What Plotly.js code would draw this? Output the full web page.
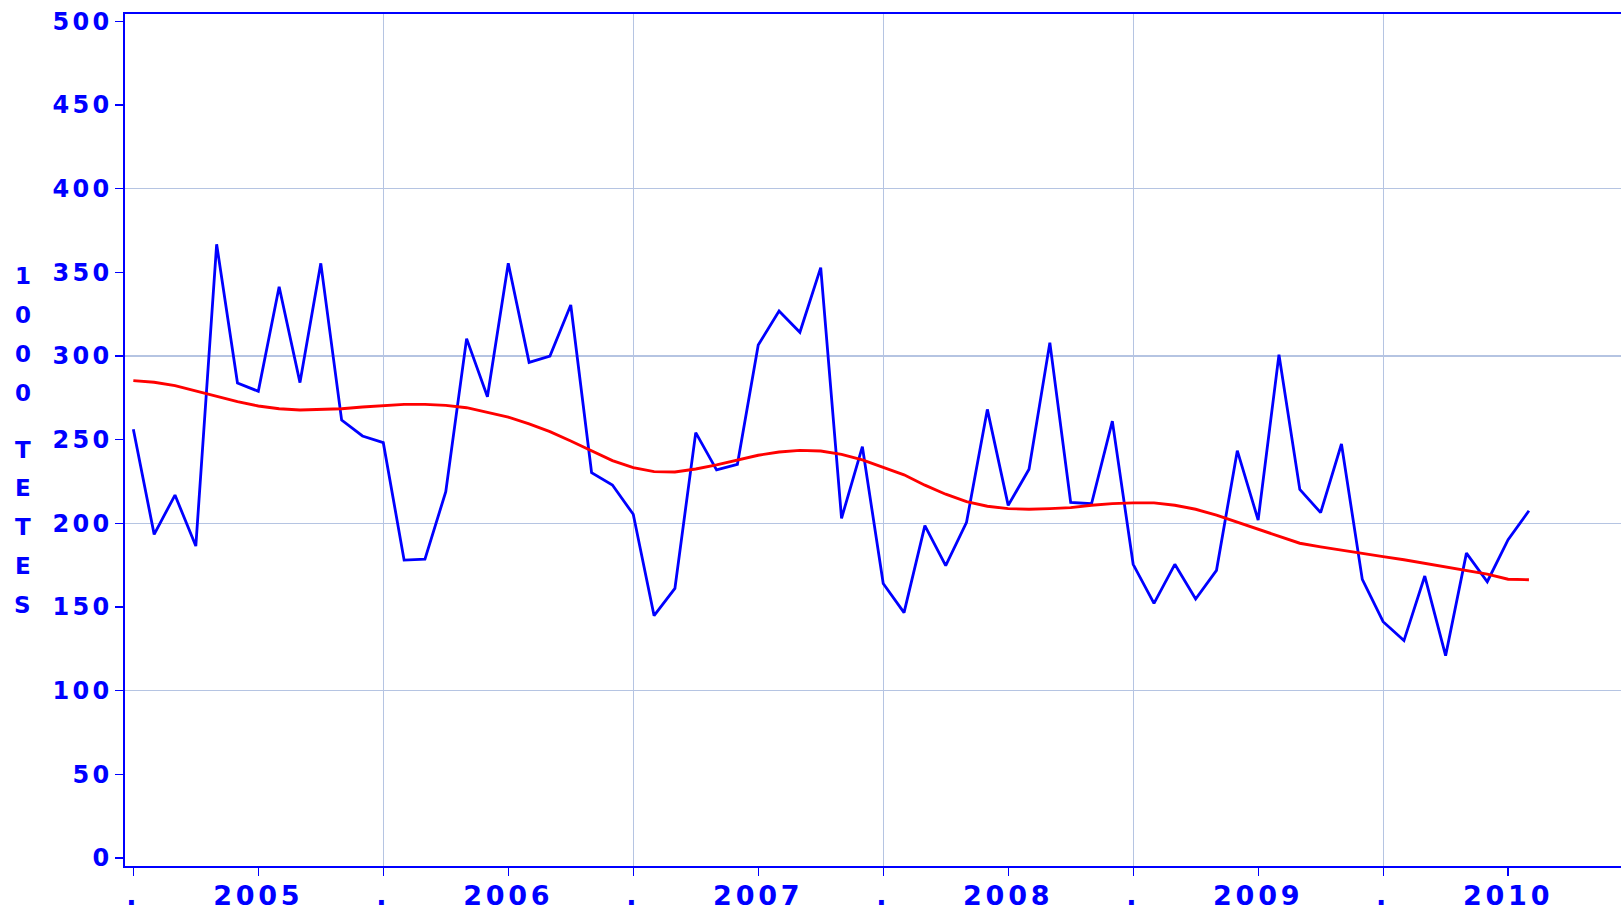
<!DOCTYPE html>
<html>
<head>
<meta charset="utf-8">
<script src="https://cdn.plot.ly/plotly-3.0.1.min.js"></script>
<style>
  html, body { margin: 0; padding: 0; background: #fff; }
  #chart { width: 1621px; height: 910px; }
  .ytick text { letter-spacing: 0.14em; }
  .xtick text { letter-spacing: 0.14em; }
</style>
</head>
<body>
<div id="chart"></div>
<script>
// Monthly series, Jan 2005 .. Aug 2010
var monthlyValues = [256.2,193.4,216.9,186.4,366.8,283.9,278.9,341.4,284.1,355.4,
  261.7,252.2,248.2,178.0,178.6,218.9,310.4,275.7,355.4,296.2,
  300.0,330.5,230.3,222.9,205.4,144.8,161.1,254.2,231.9,235.3,
  306.6,326.9,314.2,352.8,203.0,245.8,164.0,146.6,198.6,174.7,
  200.6,268.1,210.7,232.3,308.0,212.5,211.7,261.1,175.5,152.2,
  175.5,154.8,171.9,243.4,202.0,300.8,220.3,206.4,247.4,166.5,
  141.2,129.9,168.5,120.9,182.2,165.1,190.2,207.5];
var trendValues = [285.3,284.3,282.3,279.1,275.7,272.7,270.1,268.5,267.7,267.9,
  268.5,269.5,270.5,271.1,271.1,270.5,269.1,266.5,263.5,259.4,
  254.8,249.2,243.2,237.5,233.3,230.9,230.7,232.5,234.9,237.9,
  240.7,242.6,243.6,243.2,241.2,237.9,233.6,229.0,222.8,217.4,
  213.0,210.2,208.8,208.4,208.8,209.4,210.8,211.8,212.2,212.2,
  210.8,208.4,204.9,200.7,196.1,192.1,188.1,185.9,184.1,182.1,
  180.1,178.2,176.1,174.2,172.0,169.6,166.6,166.3];
var monthIndex = monthlyValues.map(function (_, i) { return i; });

// x tick labels every 6 months (Jan = ".", Jul = year)
var xTickVals = [0, 6, 12, 18, 24, 30, 36, 42, 48, 54, 60, 66];
var xTickText = ['.', '2005', '.', '2006', '.', '2007', '.', '2008', '.', '2009', '.', '2010'];
var xGridVals = [12, 24, 36, 48, 60];
var yTickVals = [0, 50, 100, 150, 200, 250, 300, 350, 400, 450, 500];
var yTickText = ['0', '50', '100', '150', '200', '250', '300', '350', '400', '450', '500'];
var yGridVals = [100, 200, 300, 400];
var yTitleWords = ['1000', 'TETES'];

var BLUE = '#0000ff';
var GRID = '#b5c4e2';
var FONT = 'DejaVu Sans, Liberation Sans, Arial, sans-serif';

// vertical stacked y title
var annotations = [];
var plotTop = 14, plotH = 852, plotL = 125, plotW = 1496;
var yPos = 276.3, step = 38.9, wordGap = 17.7;
yTitleWords.forEach(function (w, wi) {
  if (wi > 0) yPos += wordGap;
  w.split('').forEach(function (ch) {
    annotations.push({
      xref: 'paper', yref: 'paper',
      x: (22.7 - plotL) / plotW, y: 1 - (yPos - plotTop) / plotH,
      xanchor: 'center', yanchor: 'middle',
      text: ch, showarrow: false,
      font: {family: FONT, size: 23, color: BLUE, weight: 'bold'}
    });
    yPos += step;
  });
});

var traces = [
  {x: monthIndex, y: monthlyValues, type: 'scatter', mode: 'lines',
   line: {color: BLUE, width: 2.8}, hoverinfo: 'skip'},
  {x: monthIndex, y: trendValues, type: 'scatter', mode: 'lines',
   line: {color: '#ff0000', width: 2.9}, hoverinfo: 'skip'}
];

var layout = {
  width: 1621, height: 910,
  margin: {l: plotL, r: 0, t: plotTop, b: 44, pad: 0},
  paper_bgcolor: '#ffffff', plot_bgcolor: '#ffffff',
  showlegend: false,
  xaxis: {
    range: [-0.4, 71.42], tickmode: 'array', tickvals: xTickVals, ticktext: xTickText,
    ticks: 'outside', ticklen: 8, tickwidth: 1.2, tickcolor: BLUE, tickangle: 0,
    ticklabelstandoff: -3,
    showgrid: false, zeroline: false,
    showline: true, linecolor: BLUE, linewidth: 1.6, mirror: true,
    minor: {tickmode: 'array', tickvals: xGridVals, showgrid: true, gridcolor: GRID, gridwidth: 1.2, ticks: ''},
    tickfont: {family: FONT, size: 27, color: BLUE, weight: 'bold'},
    automargin: false, fixedrange: true
  },
  yaxis: {
    range: [-4.8, 504.4], tickmode: 'array', tickvals: yTickVals, ticktext: yTickText,
    ticks: 'outside', ticklen: 8, tickwidth: 1.2, tickcolor: BLUE,
    ticklabelstandoff: -2,
    showgrid: false, zeroline: false,
    showline: true, linecolor: BLUE, linewidth: 1.6, mirror: true,
    minor: {tickmode: 'array', tickvals: yGridVals, showgrid: true, gridcolor: GRID, gridwidth: 1.2, ticks: ''},
    tickfont: {family: FONT, size: 24, color: BLUE, weight: 'bold'},
    automargin: false, fixedrange: true
  },
  annotations: annotations
};

Plotly.newPlot('chart', traces, layout, {staticPlot: true, displayModeBar: false});
</script>
</body>
</html>
